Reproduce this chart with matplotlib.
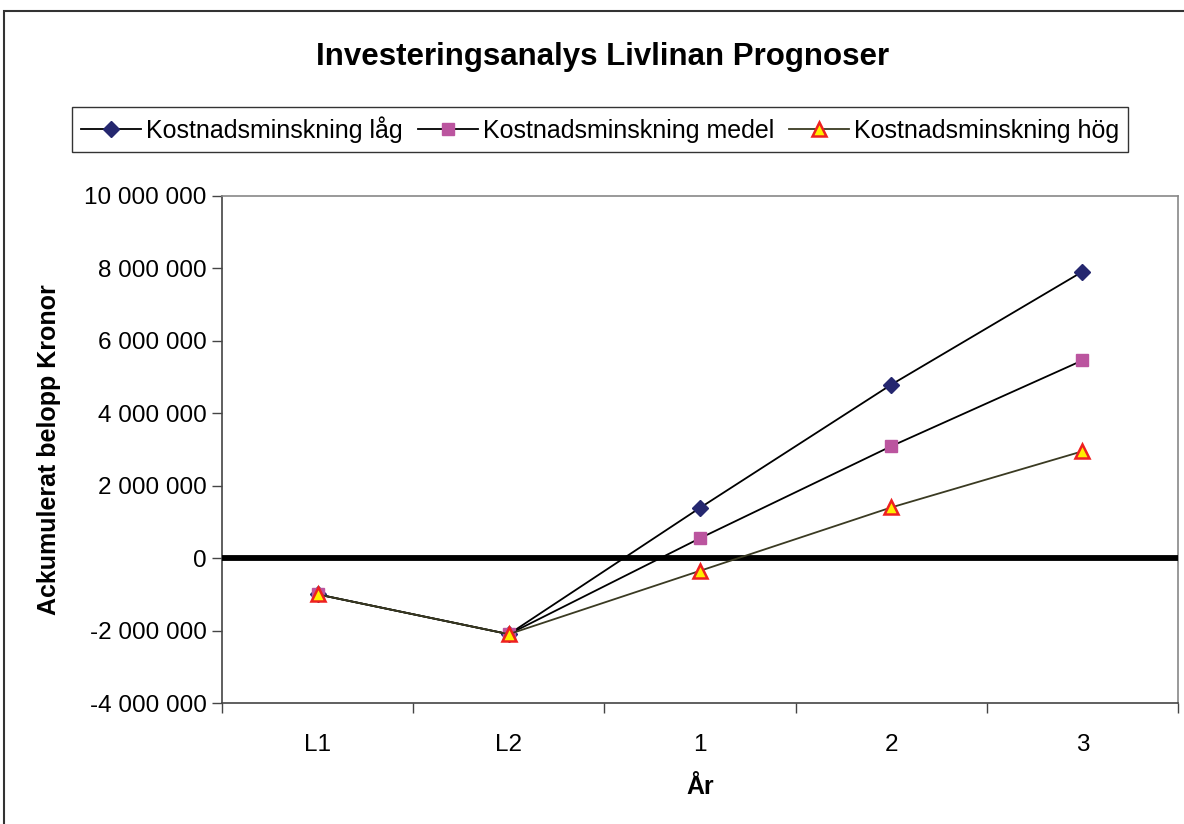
import matplotlib
matplotlib.use("Agg")
import matplotlib.pyplot as plt
from matplotlib.patches import Rectangle
from matplotlib.ticker import FuncFormatter, FixedLocator

plt.rcParams["font.family"] = ["Liberation Sans", "DejaVu Sans"]

categories = ["L1", "L2", "1", "2", "3"]
low = [-1000000, -2100000, 1390000, 4790000, 7910000]
medium = [-1000000, -2100000, 550000, 3090000, 5460000]
high = [-1000000, -2100000, -350000, 1400000, 2950000]

fig = plt.figure(figsize=(11.84, 8.24), dpi=100)
ax = fig.add_axes([222 / 1184, 1 - 703 / 824, 956 / 1184, 507 / 824])

x = list(range(len(categories)))
ax.plot(x, low, color="black", lw=1.3, marker="D", ms=8.5,
        mfc="#25276f", mec="#25276f", label="Kostnadsminskning låg", zorder=4)
ax.plot(x, medium, color="black", lw=1.3, marker="s", ms=9,
        mfc="#bb559f", mec="#bb559f", label="Kostnadsminskning medel", zorder=4)
ax.plot(x, high, color="#3a3a22", lw=1.3, marker="^", ms=10,
        mfc="#ffee00", mec="#ee2020", mew=1.8, label="Kostnadsminskning hög", zorder=5)

# thick zero line across the plot area
ax.axhline(0, color="black", lw=4.2, zorder=3)

ax.set_xlim(-0.5, 4.5)
ax.set_ylim(-4000000, 10000000)
ax.set_yticks(range(-4000000, 10000001, 2000000))
ax.yaxis.set_major_formatter(FuncFormatter(lambda v, p: f"{int(v):,}".replace(",", " ")))
ax.set_xticks(x)
ax.set_xticklabels(categories)
ax.xaxis.set_minor_locator(FixedLocator([i - 0.5 for i in range(len(categories) + 1)]))
ax.tick_params(axis="x", which="major", length=0, pad=22, labelsize=17.5)
ax.tick_params(axis="x", which="minor", length=7, width=1, color="#444444")
ax.tick_params(axis="y", length=7, width=1, color="#444444", labelsize=17.5, pad=4)

for side in ["top", "right"]:
    ax.spines[side].set_color("#888888")
    ax.spines[side].set_linewidth(1.2)
for side in ["left", "bottom"]:
    ax.spines[side].set_color("#444444")
    ax.spines[side].set_linewidth(1.2)

ax.set_xlabel("År", fontsize=18, fontweight="bold", labelpad=14)
ax.set_ylabel("Ackumulerat belopp Kronor", fontsize=18, fontweight="bold", labelpad=17)

fig.text(603 / 1184, 1 - 57 / 824, "Investeringsanalys Livlinan Prognoser",
         ha="center", va="center", fontsize=22.5, fontweight="bold")

leg = fig.legend(loc="center", bbox_to_anchor=(600 / 1184, 1 - 129.5 / 824),
                 ncol=3, fontsize=18, frameon=True, fancybox=False,
                 edgecolor="black", handlelength=2.4, handletextpad=0.2,
                 columnspacing=0.6, borderpad=0.35, borderaxespad=0)
leg.get_frame().set_linewidth(1.0)

# outer chart border
fig.patches.append(Rectangle((3.5 / 1184, -0.1), 1.2, 1 - 11.5 / 824 + 0.1,
                             transform=fig.transFigure, fill=False,
                             edgecolor="#333333", lw=1.5))

fig.savefig("out.png", dpi=100)
